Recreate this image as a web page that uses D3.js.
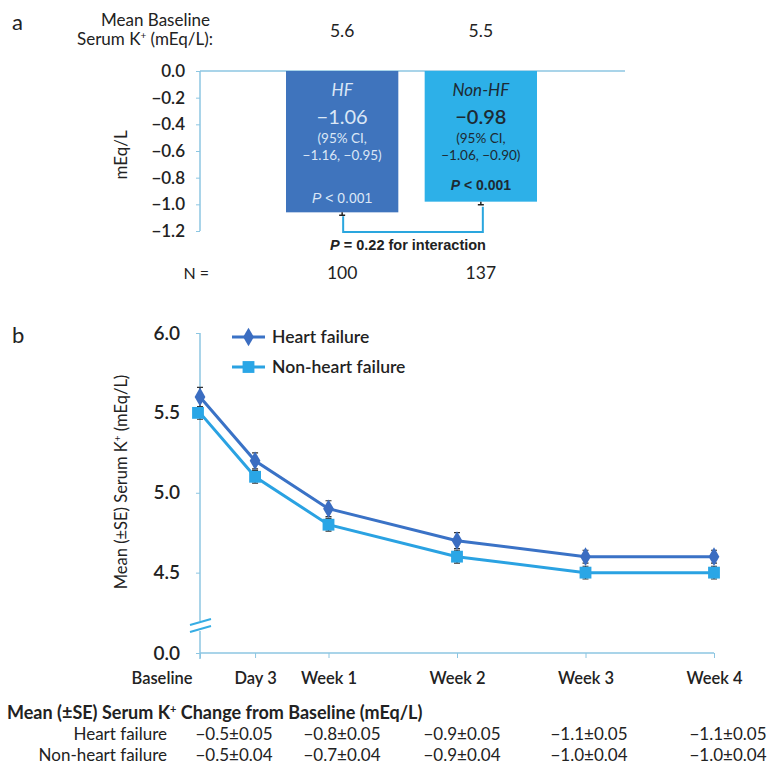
<!DOCTYPE html>
<html><head><meta charset="utf-8">
<script src="https://cdn.jsdelivr.net/npm/d3@7"></script>
<style>
html,body{margin:0;padding:0;background:#fff;}
svg text{font-family:Lato,"Open Sans",sans-serif;fill:#222;}
</style></head>
<body>
<svg id="c" width="770" height="768"></svg>
<script>
// ---- Panel a data ----
const groups = ["HF", "Non-HF"];
const groupLabels = ["HF", "Non-HF"];
const meanChange = [-1.06, -0.98];
const ciText = ["\u22121.16, \u22120.95)", "\u22121.06, \u22120.90)"];
const baselineK = ["5.6", "5.5"];
const nValues = ["100", "137"];
const aTicks = [0, -0.2, -0.4, -0.6, -0.8, -1.0, -1.2];

// ---- Panel b data ----
const timepoints = ["Baseline", "Day 3", "Week 1", "Week 2", "Week 3", "Week 4"];
const days = [0, 3, 7, 14, 21, 28];
const hfMean = [5.6, 5.2, 4.9, 4.7, 4.6, 4.6];
const nhfMean = [5.5, 5.1, 4.8, 4.6, 4.5, 4.5];
const hfSE = [0.06, 0.05, 0.05, 0.05, 0.04, 0.04];
const nhfSE = [0.04, 0.04, 0.04, 0.04, 0.04, 0.04];
const bTicks = [0.0, 4.5, 5.0, 5.5, 6.0];
const hfChange = ["\u22120.5\u00b10.05", "\u22120.8\u00b10.05", "\u22120.9\u00b10.05", "\u22121.1\u00b10.05", "\u22121.1\u00b10.05"];
const nhfChange = ["\u22120.5\u00b10.04", "\u22120.7\u00b10.04", "\u22120.9\u00b10.04", "\u22121.0\u00b10.04", "\u22121.0\u00b10.04"];
const tableCols = [234, 342, 462, 589, 728];

const svg = d3.select("#c");
const axisCol = "#8cc6e2";
const hfBar = "#3f74bd", nhfBar = "#2db0e8";
const hfLine = "#3a72c6", nhfLine = "#2aa2e2";
const fmt = v => (v < 0 ? "\u2212" : "") + Math.abs(v).toFixed(1);
const fmt2 = v => (v < 0 ? "\u2212" : "") + Math.abs(v).toFixed(2);

// ================= Panel a =================
svg.append("text").attr("x", 12).attr("y", 30).attr("font-size", 22).text("a");
svg.append("text").attr("x", 210).attr("y", 26).attr("text-anchor", "end").attr("font-size", 17).text("Mean Baseline");
svg.append("text").attr("x", 213).attr("y", 45).attr("text-anchor", "end").attr("font-size", 17)
  .html('Serum K<tspan dy="-6" font-size="10">+</tspan><tspan dy="6"> (mEq/L):</tspan>');

const ya = d3.scaleLinear().domain([-1.2, 0]).range([231, 71]);
const xa = d3.scaleBand().domain(groups).range([286, 537]).paddingInner(0.19).paddingOuter(0);
const cx = g => xa(g) + xa.bandwidth() / 2;

// axis
const gA = svg.append("g").attr("transform", "translate(200,0)")
  .call(d3.axisLeft(ya).tickValues(aTicks).tickSize(4).tickPadding(11).tickFormat(fmt));
gA.select(".domain").attr("stroke", axisCol).attr("stroke-width", 1.5).attr("d", "M0," + ya(-1.2) + "V" + ya(0));
gA.selectAll(".tick line").attr("stroke", axisCol);
gA.selectAll(".tick text").attr("font-size", 17).attr("font-family", "Lato").attr("fill", "#222").attr("font-weight", 600);
svg.append("line").attr("x1", 200).attr("x2", 625).attr("y1", ya(0)).attr("y2", ya(0)).attr("stroke", axisCol).attr("stroke-width", 1.5);
svg.append("text").attr("transform", "translate(127,155) rotate(-90)").attr("text-anchor", "middle").attr("font-size", 17).text("mEq/L");

// bars
groups.forEach((g, i) => {
  svg.append("rect").attr("x", xa(g)).attr("y", ya(0)).attr("width", xa.bandwidth())
    .attr("height", ya(meanChange[i]) - ya(0)).attr("fill", i === 0 ? hfBar : nhfBar);
  const yb = ya(meanChange[i]);
  svg.append("path").attr("d", `M${cx(g)},${yb}V${yb + 3}M${cx(g) - 3},${yb + 3}H${cx(g) + 3}`)
    .attr("stroke", "#222").attr("stroke-width", 1.5).attr("fill", "none");
  svg.append("text").attr("x", cx(g)).attr("y", 37).attr("text-anchor", "middle").attr("font-size", 17.5).text(baselineK[i]);
  svg.append("text").attr("x", cx(g)).attr("y", 279).attr("text-anchor", "middle").attr("font-size", 17.5).text(nValues[i]);
});
svg.append("text").attr("x", 209).attr("y", 279).attr("text-anchor", "end").attr("font-size", 16).text("N =");

// bar labels
const lab = [
  {c: "#dbe7f6", pY: 203, bold: false},
  {c: "#1d2a33", pY: 190, bold: true}
];
groups.forEach((g, i) => {
  const x = cx(g), L = lab[i];
  svg.append("text").attr("x", x).attr("y", 96).attr("text-anchor", "middle").attr("font-size", 17)
    .attr("font-style", "italic").style("fill", L.c).text(groupLabels[i]);
  svg.append("text").attr("x", x).attr("y", 124).attr("text-anchor", "middle").attr("font-size", 20)
    .attr("font-weight", L.bold ? 600 : 400).style("fill", L.c).text(fmt2(meanChange[i]));
  svg.append("text").attr("x", x).attr("y", 143).attr("text-anchor", "middle").attr("font-size", 13.5).style("fill", L.c).text("(95% CI,");
  svg.append("text").attr("x", x).attr("y", 160).attr("text-anchor", "middle").attr("font-size", 13.5).style("fill", L.c).text(ciText[i]);
  svg.append("text").attr("x", x).attr("y", L.pY).attr("text-anchor", "middle").attr("font-size", 14)
    .style("font-family", "'Liberation Sans',Arial,sans-serif").attr("font-weight", L.bold ? "bold" : "normal").style("fill", L.c)
    .html('<tspan font-style="italic">P</tspan> &lt; 0.001');
});

// bracket
const hb = ya(meanChange[0]), nb = ya(meanChange[1]);
svg.append("path").attr("d", `M${cx(groups[0]) + 1},${hb + 4}V232H${cx(groups[1]) + 2}V${nb + 5}`)
  .attr("fill", "none").attr("stroke", "#2aa6de").attr("stroke-width", 2);
svg.append("text").attr("x", 408).attr("y", 250).attr("text-anchor", "middle").attr("font-size", 14.5)
  .style("font-family", "'Liberation Sans',Arial,sans-serif").attr("font-weight", "bold")
  .html('<tspan font-style="italic">P</tspan> = 0.22 for interaction');

// ================= Panel b =================
svg.append("text").attr("x", 12).attr("y", 343).attr("font-size", 22).text("b");
const xb = d3.scaleLinear().domain([0, 28]).range([200, 714]);
const yb = d3.scaleLinear().domain([0, 4, 6]).range([653, 652.5, 333]);

const gY = svg.append("g").attr("transform", "translate(200,0)")
  .call(d3.axisLeft(yb).tickValues(bTicks).tickSize(4).tickPadding(16).tickFormat(d => d.toFixed(1)));
gY.select(".domain").attr("stroke", axisCol).attr("stroke-width", 1.5).attr("d", `M0,${yb(6)}V${yb(0) + 6}`);
gY.selectAll(".tick line").attr("stroke", axisCol);
gY.selectAll(".tick text").attr("font-size", 19).attr("font-family", "Lato").attr("fill", "#222").attr("font-weight", 600);

const gX = svg.append("g").attr("transform", `translate(0,${yb(0)})`)
  .call(d3.axisBottom(xb).tickValues(days).tickSize(5).tickPadding(14).tickFormat((d, i) => timepoints[i]));
gX.select(".domain").attr("stroke", axisCol).attr("stroke-width", 1.5).attr("d", `M200,0H714`);
gX.selectAll(".tick line").attr("stroke", axisCol);
gX.selectAll(".tick text").attr("font-size", 16.5).attr("font-family", "Lato").attr("fill", "#222").attr("font-weight", 600);
gX.selectAll(".tick text").filter((d, i) => i === 0).attr("text-anchor", "end").attr("x", -8);

// axis break
svg.append("rect").attr("x", 196).attr("y", 621).attr("width", 8).attr("height", 10).attr("fill", "#fff");
svg.append("path").attr("d", "M190,625L211,619M190,632L211,626").attr("stroke", "#36ade4").attr("stroke-width", 2);

svg.append("text").attr("transform", "translate(127,482) rotate(-90)").attr("text-anchor", "middle").attr("font-size", 16.5)
  .html('Mean (±SE) Serum K<tspan dy="-6" font-size="10">+</tspan><tspan dy="6"> (mEq/L)</tspan>');

const series = [
  {m: hfMean, se: hfSE, c: hfLine, sym: d3.symbolDiamond, size: 100, mc: "#3b6dc1"},
  {m: nhfMean, se: nhfSE, c: nhfLine, sym: d3.symbolSquare, size: 140, mc: "#2aa6e6"}
];
const line = d3.line().x((d, i) => xb(days[i])).y(d => yb(d));
series.slice().reverse().forEach(s => {
  svg.append("path").datum(s.m).attr("d", line).attr("fill", "none").attr("stroke", s.c).attr("stroke-width", 3);
});
series.forEach(s => {
  s.m.forEach((v, i) => {
    const x = xb(days[i]), y1 = yb(v + s.se[i]), y2 = yb(v - s.se[i]);
    svg.append("path").attr("d", `M${x},${y1}V${y2}M${x - 3},${y1}H${x + 3}M${x - 3},${y2}H${x + 3}`)
      .attr("stroke", "#333").attr("stroke-width", 1.2).attr("fill", "none");
  });
});
series.forEach(s => {
  svg.append("g").selectAll("path").data(s.m).join("path")
    .attr("transform", (d, i) => `translate(${xb(days[i]) - (s.sym === d3.symbolSquare && i === 0 ? 2 : 0)},${yb(d)})`)
    .attr("d", d3.symbol().type(s.sym).size(s.size)).attr("fill", s.mc);
});

// legend
const legNames = ["Heart failure", "Non-heart failure"];
legNames.forEach((n, i) => {
  const y = 337 + i * 30, s = series[i];
  svg.append("line").attr("x1", 232).attr("x2", 265).attr("y1", y).attr("y2", y).attr("stroke", s.c).attr("stroke-width", 3);
  svg.append("path").attr("transform", `translate(248.5,${y})`).attr("d", d3.symbol().type(s.sym).size(s.size)).attr("fill", s.mc);
  svg.append("text").attr("x", 272).attr("y", y + 6).attr("font-size", 17.5).attr("font-weight", 600).text(n);
});

// table
svg.append("text").attr("x", 7).attr("y", 719).attr("font-size", 18).attr("font-weight", 700)
  .html('Mean (±SE) Serum K<tspan dy="-6" font-size="11">+</tspan><tspan dy="6"> Change from Baseline (mEq/L)</tspan>');
const rows = [{n: "Heart failure", v: hfChange}, {n: "Non-heart failure", v: nhfChange}];
rows.forEach((r, j) => {
  const y = 740 + j * 21;
  svg.append("text").attr("x", 167).attr("y", y).attr("text-anchor", "end").attr("font-size", 17).text(r.n);
  r.v.forEach((t, k) => {
    svg.append("text").attr("x", tableCols[k]).attr("y", y).attr("text-anchor", "middle").attr("font-size", 17).text(t);
  });
});
</script>
</body></html>
